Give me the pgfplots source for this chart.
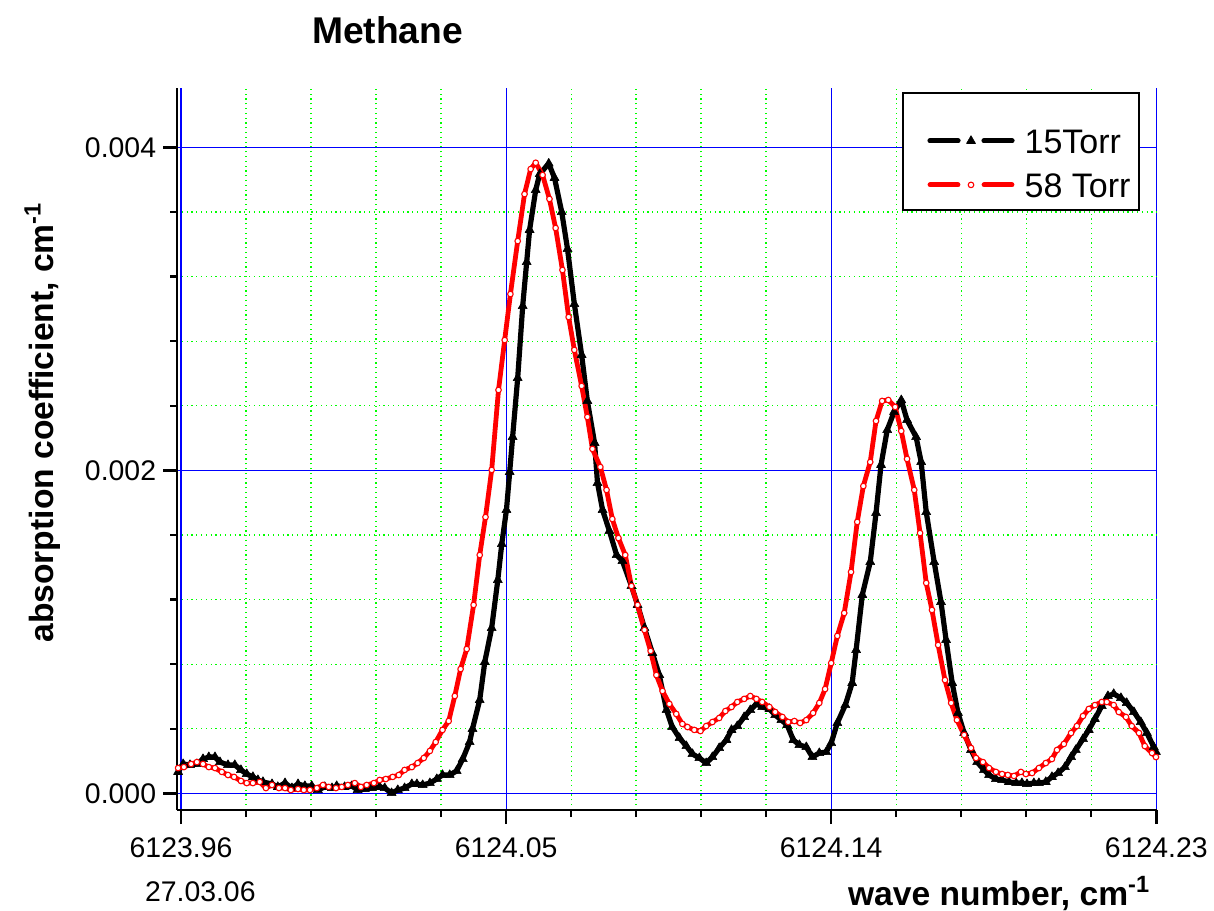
\documentclass[border=0pt]{standalone}
\usepackage{fontspec}
\setmainfont{Liberation Sans}
\usepackage{pgfplots}
\usepackage{pgfplotstable}
\pgfplotsset{compat=1.18}

\definecolor{gridgreen}{RGB}{0,255,0}
\definecolor{gridblue}{RGB}{0,0,255}
\definecolor{torrred}{RGB}{255,0,0}

% 15 Torr spectrum: wave number (cm^-1), absorption coefficient (cm^-1)
\pgfplotstableread{
x y
6123.9592 0.000133
6123.9606 0.000182
6123.9625 0.000176
6123.9644 0.000182
6123.9661 0.000213
6123.9677 0.000225
6123.9694 0.000225
6123.9708 0.000194
6123.9730 0.000176
6123.9749 0.000176
6123.9766 0.000145
6123.9782 0.000120
6123.9799 0.000102
6123.9813 0.000083
6123.9827 0.000071
6123.9852 0.000058
6123.9868 0.000040
6123.9888 0.000064
6123.9907 0.000033
6123.9924 0.000058
6123.9943 0.000046
6123.9962 0.000046
6123.9979 0.000021
6123.9998 0.000040
6124.0018 0.000033
6124.0031 0.000046
6124.0053 0.000040
6124.0073 0.000046
6124.0089 0.000021
6124.0109 0.000027
6124.0128 0.000033
6124.0150 0.000040
6124.0164 0.000033
6124.0183 0.000002
6124.0200 0.000021
6124.0219 0.000033
6124.0239 0.000058
6124.0253 0.000058
6124.0269 0.000052
6124.0289 0.000064
6124.0308 0.000089
6124.0324 0.000114
6124.0344 0.000114
6124.0363 0.000139
6124.0380 0.000213
6124.0399 0.000318
6124.0407 0.000399
6124.0427 0.000578
6124.0441 0.000814
6124.0460 0.001024
6124.0477 0.001321
6124.0488 0.001544
6124.0501 0.001755
6124.0510 0.001990
6124.0518 0.002207
6124.0532 0.002572
6124.0546 0.003018
6124.0557 0.003290
6124.0565 0.003489
6124.0582 0.003736
6124.0593 0.003835
6124.0618 0.003900
6124.0634 0.003811
6124.0654 0.003600
6124.0670 0.003371
6124.0689 0.003030
6124.0709 0.002715
6124.0725 0.002430
6124.0745 0.002170
6124.0753 0.001922
6124.0767 0.001755
6124.0786 0.001625
6124.0806 0.001476
6124.0822 0.001439
6124.0847 0.001284
6124.0864 0.001167
6124.0883 0.001024
6124.0905 0.000869
6124.0924 0.000733
6124.0944 0.000516
6124.0960 0.000411
6124.0980 0.000343
6124.0999 0.000293
6124.1016 0.000244
6124.1035 0.000219
6124.1054 0.000188
6124.1071 0.000225
6124.1090 0.000281
6124.1110 0.000331
6124.1124 0.000393
6124.1140 0.000417
6124.1159 0.000473
6124.1176 0.000516
6124.1193 0.000554
6124.1209 0.000535
6124.1229 0.000523
6124.1245 0.000485
6124.1262 0.000454
6124.1278 0.000424
6124.1295 0.000331
6124.1312 0.000300
6124.1331 0.000287
6124.1348 0.000225
6124.1367 0.000250
6124.1386 0.000256
6124.1400 0.000312
6124.1417 0.000436
6124.1439 0.000547
6124.1458 0.000684
6124.1469 0.000888
6124.1486 0.001229
6124.1508 0.001433
6124.1524 0.001736
6124.1538 0.002034
6124.1555 0.002250
6124.1574 0.002362
6124.1594 0.002435
6124.1610 0.002312
6124.1635 0.002207
6124.1649 0.002052
6124.1663 0.001742
6124.1685 0.001433
6124.1704 0.001185
6124.1718 0.000950
6124.1735 0.000684
6124.1751 0.000498
6124.1768 0.000374
6124.1787 0.000269
6124.1804 0.000194
6124.1823 0.000145
6124.1837 0.000114
6124.1856 0.000089
6124.1873 0.000083
6124.1892 0.000071
6124.1912 0.000064
6124.1928 0.000064
6124.1942 0.000058
6124.1961 0.000064
6124.1975 0.000064
6124.1994 0.000071
6124.2011 0.000102
6124.2028 0.000126
6124.2047 0.000163
6124.2064 0.000225
6124.2077 0.000269
6124.2097 0.000337
6124.2113 0.000393
6124.2130 0.000461
6124.2149 0.000541
6124.2166 0.000603
6124.2182 0.000616
6124.2202 0.000591
6124.2218 0.000560
6124.2238 0.000504
6124.2257 0.000442
6124.2274 0.000374
6124.2293 0.000287
6124.2299 0.000256
}\lowp

% 58 Torr spectrum
\pgfplotstableread{
x y
6123.9592 0.000157
6123.9608 0.000163
6123.9628 0.000182
6123.9644 0.000194
6123.9661 0.000182
6123.9677 0.000163
6123.9694 0.000157
6123.9713 0.000133
6123.9730 0.000114
6123.9747 0.000102
6123.9766 0.000077
6123.9782 0.000064
6123.9799 0.000064
6123.9818 0.000071
6123.9835 0.000033
6123.9852 0.000052
6123.9871 0.000033
6123.9888 0.000033
6123.9904 0.000021
6123.9924 0.000027
6123.9940 0.000021
6123.9957 0.000021
6123.9976 0.000033
6123.9993 0.000052
6124.0009 0.000040
6124.0029 0.000033
6124.0045 0.000040
6124.0062 0.000052
6124.0081 0.000064
6124.0098 0.000040
6124.0114 0.000052
6124.0134 0.000064
6124.0150 0.000083
6124.0167 0.000089
6124.0186 0.000102
6124.0203 0.000114
6124.0219 0.000145
6124.0239 0.000163
6124.0255 0.000188
6124.0272 0.000219
6124.0289 0.000263
6124.0305 0.000318
6124.0324 0.000393
6124.0341 0.000448
6124.0358 0.000603
6124.0374 0.000770
6124.0391 0.000894
6124.0410 0.001167
6124.0427 0.001476
6124.0443 0.001711
6124.0460 0.002003
6124.0479 0.002498
6124.0496 0.002807
6124.0512 0.003092
6124.0532 0.003420
6124.0551 0.003711
6124.0568 0.003866
6124.0582 0.003905
6124.0601 0.003829
6124.0620 0.003681
6124.0637 0.003501
6124.0656 0.003241
6124.0673 0.002950
6124.0689 0.002746
6124.0709 0.002523
6124.0725 0.002331
6124.0739 0.002133
6124.0761 0.002021
6124.0778 0.001879
6124.0794 0.001699
6124.0811 0.001581
6124.0830 0.001476
6124.0847 0.001284
6124.0864 0.001167
6124.0883 0.001012
6124.0900 0.000882
6124.0916 0.000733
6124.0933 0.000634
6124.0952 0.000554
6124.0971 0.000492
6124.0988 0.000430
6124.1002 0.000411
6124.1021 0.000393
6124.1038 0.000386
6124.1054 0.000417
6124.1071 0.000442
6124.1090 0.000467
6124.1107 0.000510
6124.1124 0.000535
6124.1140 0.000566
6124.1159 0.000585
6124.1176 0.000603
6124.1193 0.000585
6124.1209 0.000566
6124.1229 0.000535
6124.1245 0.000504
6124.1265 0.000473
6124.1281 0.000442
6124.1298 0.000448
6124.1314 0.000436
6124.1331 0.000454
6124.1350 0.000498
6124.1367 0.000560
6124.1383 0.000646
6124.1400 0.000807
6124.1417 0.000975
6124.1436 0.001117
6124.1455 0.001371
6124.1472 0.001681
6124.1489 0.001903
6124.1508 0.002052
6124.1524 0.002306
6124.1541 0.002430
6124.1558 0.002436
6124.1577 0.002393
6124.1594 0.002244
6124.1610 0.002071
6124.1630 0.001879
6124.1646 0.001612
6124.1663 0.001303
6124.1679 0.001136
6124.1696 0.000919
6124.1715 0.000702
6124.1732 0.000560
6124.1748 0.000454
6124.1768 0.000362
6124.1787 0.000281
6124.1801 0.000219
6124.1820 0.000194
6124.1837 0.000157
6124.1856 0.000133
6124.1873 0.000120
6124.1889 0.000114
6124.1906 0.000108
6124.1925 0.000133
6124.1939 0.000120
6124.1956 0.000126
6124.1975 0.000157
6124.1994 0.000188
6124.2011 0.000213
6124.2025 0.000269
6124.2044 0.000306
6124.2064 0.000374
6124.2080 0.000417
6124.2097 0.000479
6124.2113 0.000523
6124.2130 0.000547
6124.2149 0.000566
6124.2163 0.000566
6124.2182 0.000547
6124.2196 0.000504
6124.2216 0.000473
6124.2232 0.000417
6124.2252 0.000374
6124.2268 0.000293
6124.2288 0.000250
6124.2299 0.000225
}\highp

\begin{document}
\begin{tikzpicture}
\useasboundingbox (0,0) rectangle (607bp,455.5bp);
\begin{axis}[
  at={(88.5bp,50.5bp)}, anchor=south west,
  width=490bp, height=361bp, scale only axis,
  xmin=6123.95889, xmax=6124.2302,
  ymin=-0.0001028, ymax=0.004368,
  axis x line*=bottom, axis y line*=left,
  axis line style={line width=1.25bp, black},
  scaled x ticks=false, scaled y ticks=false,
  xtick={6123.96,6124.05,6124.14,6124.23},
  xticklabels={6123.96,6124.05,6124.14,6124.23},
  ytick={0,0.002,0.004},
  yticklabels={0.000,0.002,0.004},
  minor x tick num=4, minor y tick num=4,
  tick align=outside,
  major tick length=7bp, minor tick length=3.5bp,
  tick style={black, line width=1.25bp},
  grid=both,
  major grid style={gridblue, line width=0.6bp, solid},
  minor grid style={gridgreen, line width=0.6bp, dash pattern=on 0.6bp off 1.8bp},
  ticklabel style={font=\fontsize{14.2bp}{17bp}\selectfont},
  xticklabel style={yshift=-3.5bp},
  legend style={
    at={(0.7653,0.9446)}, anchor=north west,
    draw=none, fill=none, inner sep=0bp,
    row sep=9.5bp, column sep=5bp,
    font=\fontsize{17bp}{20bp}\selectfont,
    nodes={inner sep=0bp, text height=12.5bp, text depth=0bp},
  },
  legend cell align=left,
  legend image code/.code={
    \draw[#1, mark=none, line cap=round] (0bp,0bp) -- (14bp,0bp);
    \draw[#1, mark=none, line cap=round] (27bp,0bp) -- (41bp,0bp);
    \draw[#1, only marks] plot coordinates {(20.5bp,0bp)};
  },
]
\addplot[black, line width=2.6bp, line join=round,
  mark=triangle*, mark size=2.6bp,
  mark options={solid, line width=0.3bp, fill=black}]
  table[x=x, y=y] {\lowp};
\addlegendentry{15Torr}
\addplot[torrred, line width=2.4bp, line join=round,
  mark=*, mark size=1.4bp,
  mark options={solid, line width=0.55bp, draw=torrred, fill=white}]
  table[x=x, y=y] {\highp};
\addlegendentry{58 Torr}
% legend frame
\draw[black, line width=0.6bp, fill=white]
  (rel axis cs:0.7408,0.9931) rectangle (rel axis cs:0.9816,0.8310);
\end{axis}

\node[font=\bfseries\fontsize{18.6bp}{22bp}\selectfont, anchor=base]
  at (193.75bp,433.5bp) {Methane};
\node[font=\bfseries\fontsize{16.8bp}{20bp}\selectfont, anchor=base, rotate=90]
  at (26.5bp,244.25bp) {absorption coefficient, cm\textsuperscript{-1}};
\node[font=\bfseries\fontsize{16.8bp}{20bp}\selectfont, anchor=base west]
  at (420.5bp,3bp) {wave number, cm\textsuperscript{-1}};
\node[font=\fontsize{14.2bp}{17bp}\selectfont, anchor=base west]
  at (69bp,5bp) {27.03.06};
\end{tikzpicture}
\end{document}
